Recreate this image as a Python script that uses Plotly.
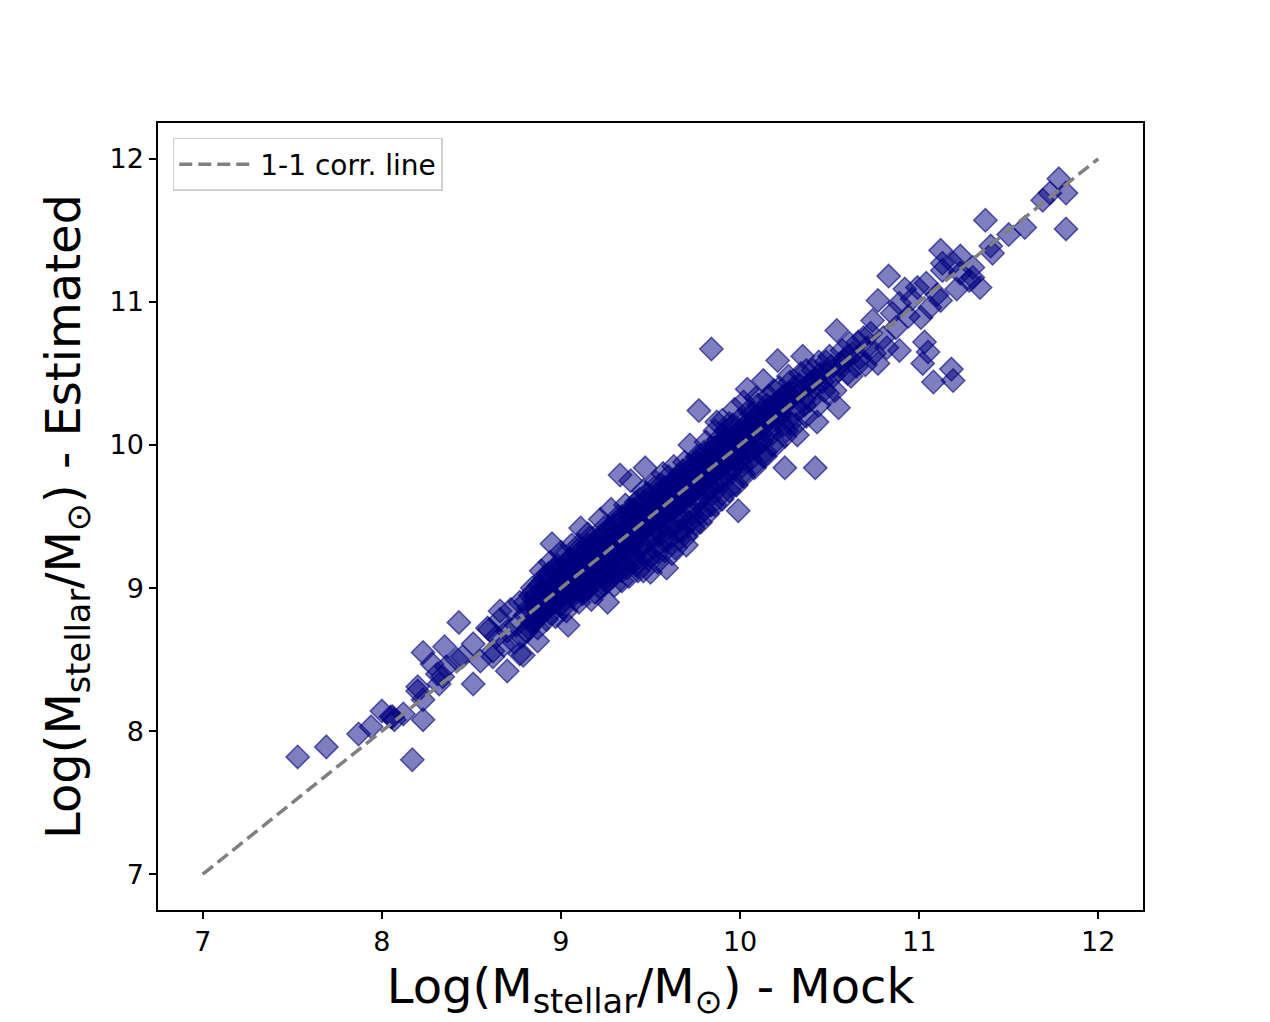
import plotly.graph_objects as go

# mock vs estimated log stellar mass
mock = [
    7.53, 7.69, 7.87, 8.17, 7.94, 8.00, 8.07, 8.23, 8.23, 8.35, 8.43, 8.51, 8.70, 8.79, 8.32, 8.20, 8.23, 8.05, 8.12,
    8.28, 8.36, 8.20, 8.06, 8.45, 8.51, 8.59, 8.66, 8.62, 8.55, 8.34, 8.31, 8.42, 8.87, 8.77,
    8.60, 8.62, 8.64, 8.66, 8.68, 8.70, 8.72, 8.74, 8.75, 8.77, 8.78, 8.80, 8.81, 8.83, 8.84, 8.86, 8.87, 8.88, 8.90,
    8.91, 8.92, 8.93, 8.94, 8.95, 8.96, 8.97, 8.98, 8.99, 9.00, 9.01, 9.02, 9.03, 9.04, 9.05, 9.06, 9.07, 9.08, 9.09,
    9.10, 9.11, 9.12, 9.13, 9.14, 9.15, 9.16, 9.17, 9.18, 9.19, 9.20, 9.21, 9.22, 9.23, 9.24, 9.25, 9.26, 9.27, 9.28,
    9.29, 9.30, 9.31, 9.32, 9.33, 9.34, 9.35, 9.36, 9.37, 9.38, 9.39, 9.40, 9.41, 9.42, 9.43, 9.44, 9.45, 9.46, 9.47,
    9.48, 9.49, 9.50, 9.51, 9.52, 9.53, 9.54, 9.55, 9.56, 9.57, 9.58, 9.59, 9.60, 9.61, 9.62, 9.63, 9.64, 9.65, 9.66,
    9.67, 9.68, 9.69, 9.70, 9.71, 9.72, 9.73, 9.74, 9.75, 9.76, 9.77, 9.78, 9.79, 9.80, 9.81, 9.82, 9.83, 9.84, 9.85,
    9.86, 9.87, 9.88, 9.89, 9.90, 9.91, 9.92, 9.93, 9.94, 9.95, 9.96, 9.97, 9.98, 9.99, 10.00, 10.01, 10.02, 10.03,
    10.04, 10.05, 10.06, 10.07, 10.08, 10.09, 10.10, 10.12, 10.13, 10.14, 10.15, 10.17, 10.19, 10.21, 10.22, 10.24,
    10.25, 10.27, 10.28, 10.30, 10.32, 10.33, 10.35, 10.37, 10.39, 10.40, 10.42, 10.43, 10.44, 10.45, 10.47, 10.49,
    10.50, 10.52, 10.54, 10.55, 10.56, 10.58, 10.60, 10.61, 10.63, 10.65, 10.67, 10.69, 10.71, 10.73, 10.74, 10.75,
    10.77, 10.77, 10.80, 10.82, 10.83, 10.85, 10.87, 10.89, 10.89, 10.92, 10.94, 10.96, 10.99, 11.01, 11.02, 11.03,
    11.04, 11.05, 11.06, 11.08, 11.10, 11.12, 11.12, 11.13, 11.13, 11.18, 11.19, 11.19, 11.21, 11.23, 11.23, 11.28,
    11.30, 11.30, 11.34, 11.37, 11.40, 11.41, 11.50, 11.59, 11.69, 11.73, 11.78, 11.82, 11.82,
    8.85, 8.88, 8.90, 8.93, 8.96, 8.99, 9.02, 9.04, 9.07, 9.09, 9.11, 9.14, 9.16, 9.18, 9.21, 9.23, 9.25, 9.27, 9.29,
    9.31, 9.33, 9.35, 9.37, 9.39, 9.41, 9.43, 9.45, 9.47, 9.49, 9.51, 9.53, 9.55, 9.57, 9.59, 9.61, 9.63, 9.65, 9.67,
    9.69, 9.71, 9.73, 9.75, 9.77, 9.79, 9.81, 9.83, 9.85, 9.87, 9.89, 9.91, 9.93, 9.95, 9.97, 9.99, 10.01, 10.03,
    10.06, 10.09, 10.11, 10.14, 10.16, 10.20, 10.23, 10.26, 10.29, 10.34, 10.38, 10.42, 10.46, 10.51,
    8.80, 8.82, 8.84, 8.86, 8.89, 8.91, 8.94, 8.97, 9.00, 9.03, 9.05, 9.08, 9.10, 9.12, 9.15, 9.17, 9.19, 9.22, 9.24,
    9.26, 9.28, 9.30, 9.32, 9.34, 9.36, 9.38, 9.40, 9.42, 9.44, 9.46, 9.48, 9.50, 9.52, 9.54, 9.56, 9.58, 9.60, 9.62,
    9.64, 9.66, 9.68, 9.70, 9.72, 9.74, 9.76, 9.78, 9.80, 9.82, 9.84, 9.86, 9.88, 9.90, 9.92, 9.94, 9.96, 9.98, 10.00,
    10.02, 10.05, 10.08, 10.10, 10.13, 10.16, 10.18, 10.22, 10.25, 10.28, 10.31, 10.34, 10.37, 10.41, 10.44, 10.48,
    10.53, 10.57, 10.62, 10.66, 10.70,
    8.95, 8.98, 9.01, 9.04, 9.07, 9.10, 9.13, 9.16, 9.19, 9.22, 9.25, 9.28, 9.31, 9.34, 9.37, 9.40, 9.43, 9.46, 9.49,
    9.52, 9.55, 9.58, 9.61, 9.64, 9.67, 9.70, 9.73, 9.76, 9.79, 9.82, 9.85, 9.88, 9.91, 9.94, 9.97, 10.00, 10.04,
    10.07, 10.12, 10.18, 10.24, 10.30, 10.36, 10.41, 10.48, 10.55, 10.60,
    8.82, 8.84, 8.86, 8.88, 8.90, 8.92, 8.94, 8.96, 8.98, 9.00, 9.02, 9.04, 9.06, 9.08, 9.10, 9.12, 9.14, 9.16, 9.18,
    9.20, 9.22, 9.24, 9.26, 9.28, 9.30, 9.32, 9.34, 9.36, 9.38, 9.40, 9.42, 9.44, 9.46, 9.48, 9.50, 9.52, 9.54, 9.56,
    9.58, 9.60, 9.62, 9.64, 9.66, 9.68, 9.70, 9.72, 9.74, 9.76, 9.78, 9.80, 9.82, 9.84, 9.86, 9.88, 9.90, 9.92, 9.94,
    9.96, 9.98, 10.00, 10.03, 10.06, 10.09, 10.12, 10.15, 10.18, 10.21, 10.24, 10.27, 10.30, 10.33, 10.36,
    8.87, 8.91, 8.95, 8.99, 9.03, 9.07, 9.11, 9.15, 9.19, 9.23, 9.27, 9.31, 9.35, 9.39, 9.43, 9.47, 9.51, 9.55, 9.59,
    9.63, 9.67, 9.71, 9.75, 9.79, 9.83, 9.87, 9.91, 9.95, 9.99, 10.03,
    8.89, 8.93, 8.97, 9.01, 9.05, 9.09, 9.13, 9.17, 9.21, 9.25, 9.29, 9.33, 9.37, 9.41, 9.45, 9.49, 9.53, 9.57, 9.61,
    9.65, 9.69, 9.73, 9.77, 9.81, 9.85, 9.89, 9.93, 9.97, 10.01, 10.05,
    8.85, 8.88, 8.91, 8.94, 8.97, 9.00, 9.03, 9.06, 9.09, 9.12, 9.15, 9.18, 9.21, 9.24, 9.27, 9.30, 9.33, 9.36, 9.39,
    9.42, 9.45, 9.48, 9.51, 9.54, 9.57, 9.60, 9.63, 9.66, 9.69, 9.72, 9.75, 9.78, 9.81, 9.84, 9.87, 9.90, 9.93, 9.96,
    9.99, 10.02, 10.05, 10.08, 10.11, 10.14, 10.17, 10.20, 10.23, 10.26,
    8.86, 8.90, 8.94, 8.98, 9.02, 9.06, 9.10, 9.14, 9.18, 9.22, 9.26, 9.30, 9.34, 9.38, 9.42, 9.46, 9.50, 9.54, 9.58,
    9.62, 9.66, 9.70, 9.74, 9.78, 9.82, 9.86, 9.90, 9.94, 9.98, 10.02, 10.06, 10.10, 10.16, 10.22,
]
estimated = [
    7.82, 7.89, 7.98, 7.80, 8.03, 8.14, 8.08, 8.08, 8.55, 8.59, 8.76, 8.33, 8.42, 8.53, 8.33, 8.31, 8.22, 8.10, 8.12,
    8.47, 8.45, 8.28, 8.10, 8.52, 8.61, 8.72, 8.84, 8.56, 8.49, 8.38, 8.40, 8.50, 8.63, 8.54,
    8.71, 8.52, 8.66, 8.78, 8.60, 8.70, 8.85, 8.62, 8.74, 8.90, 8.66, 8.81, 8.70, 8.95, 8.77, 8.86, 8.72, 9.02, 8.84,
    8.98, 8.78, 9.10, 8.88, 9.31, 9.02, 8.80, 9.16, 8.93, 9.08, 8.86, 9.22, 9.00, 8.74, 9.13, 9.30, 8.95, 9.05, 9.18,
    8.90, 9.42, 9.06, 9.24, 8.98, 9.12, 9.35, 9.03, 9.20, 8.97, 9.28, 9.10, 9.48, 9.15, 9.02, 9.33, 8.90, 9.22, 9.55,
    9.08, 9.38, 9.18, 9.27, 9.79, 9.05, 9.45, 9.30, 9.14, 9.52, 9.75, 9.36, 9.22, 9.60, 9.12, 9.44, 9.30, 9.68, 9.84,
    9.50, 9.20, 9.11, 9.58, 9.38, 9.74, 9.25, 9.62, 9.45, 9.80, 9.33, 9.14, 9.55, 9.70, 9.42, 9.85, 9.28, 9.62, 9.50,
    9.76, 9.40, 9.88, 9.30, 9.64, 10.00, 9.52, 9.78, 9.45, 9.92, 10.24, 9.62, 9.84, 9.55, 10.02, 9.70, 9.90, 10.67, 9.66,
    10.10, 10.16, 9.80, 9.95, 10.17, 9.75, 10.05, 9.88, 10.15, 9.82, 10.00, 10.25, 9.92, 9.54, 10.10, 9.85, 10.30, 9.98,
    10.39, 10.12, 9.90, 10.22, 10.05, 10.33, 10.00, 10.18, 10.45, 9.95, 10.28, 10.10, 10.38, 10.59, 10.20, 10.34,
    9.84, 10.48, 10.15, 10.40, 10.07, 10.25, 10.62, 10.52, 10.31, 10.44, 9.84, 10.16, 10.58, 10.50, 10.38, 10.36,
    10.62, 10.48, 10.80, 10.26, 10.57, 10.59, 10.50, 10.71, 10.64, 10.55, 10.61, 10.75, 10.68, 10.78, 10.87, 10.64,
    10.57, 11.01, 10.75, 10.68, 11.18, 10.92, 10.82, 10.66, 10.99, 11.09, 10.90, 11.02, 11.10, 10.89, 10.57, 10.72,
    11.13, 10.65, 10.96, 10.44, 11.05, 11.01, 11.36, 11.22, 11.27, 10.53, 10.45, 11.27, 11.09, 11.32, 11.20, 11.15,
    11.24, 11.17, 11.10, 11.57, 11.39, 11.34, 11.47, 11.52, 11.71, 11.76, 11.86, 11.76, 11.51,
    8.92, 8.80, 9.05, 8.96, 9.12, 9.00, 8.92, 9.10, 9.16, 9.00, 9.08, 9.20, 9.06, 9.14, 9.25, 9.08, 9.18, 9.30, 9.22,
    9.36, 9.25, 9.32, 9.42, 9.30, 9.40, 9.48, 9.38, 9.42, 9.55, 9.46, 9.50, 9.40, 9.58, 9.52, 9.62, 9.55, 9.70, 9.60,
    9.66, 9.74, 9.68, 9.80, 9.72, 9.70, 9.84, 9.78, 9.88, 9.82, 9.86, 9.96, 9.90, 10.04, 9.94, 10.02, 10.08, 10.04,
    10.12, 10.15, 10.08, 10.22, 10.14, 10.26, 10.22, 10.30, 10.33, 10.38, 10.42, 10.46, 10.44, 10.55,
    8.90, 8.72, 9.00, 8.78, 9.12, 8.85, 9.18, 8.90, 9.25, 8.84, 9.20, 8.92, 9.30, 8.96, 9.38, 8.92, 9.30, 9.00, 9.42,
    9.05, 9.40, 9.02, 9.50, 9.12, 9.58, 9.08, 9.55, 9.16, 9.62, 9.12, 9.66, 9.22, 9.70, 9.18, 9.72, 9.26, 9.78, 9.24,
    9.76, 9.34, 9.82, 9.36, 9.86, 9.42, 9.88, 9.46, 9.95, 9.52, 9.98, 9.58, 10.04, 9.62, 10.10, 9.68, 10.14, 9.72, 10.18,
    9.80, 10.24, 9.86, 10.28, 9.92, 10.34, 10.00, 10.40, 10.06, 10.44, 10.14, 10.50, 10.20, 10.52, 10.28, 10.58,
    10.38, 10.66, 10.48, 10.72, 10.56,
    8.98, 9.06, 9.02, 9.12, 9.04, 9.16, 9.10, 9.22, 9.16, 9.14, 9.28, 9.20, 9.30, 9.40, 9.30, 9.46, 9.36, 9.52, 9.44,
    9.58, 9.50, 9.64, 9.54, 9.68, 9.62, 9.76, 9.66, 9.82, 9.76, 9.86, 9.80, 9.94, 9.88, 9.98, 9.90, 10.04, 9.98,
    10.16, 10.12, 10.20, 10.28, 10.36, 10.32, 10.40, 10.50, 10.52, 10.62,
    8.86, 8.76, 8.95, 8.84, 8.98, 8.86, 9.06, 8.90, 9.12, 8.94, 9.10, 8.98, 9.20, 9.00, 9.24, 9.02, 9.26, 9.08, 9.32,
    9.10, 9.36, 9.12, 9.40, 9.14, 9.44, 9.16, 9.50, 9.20, 9.54, 9.24, 9.56, 9.28, 9.60, 9.32, 9.64, 9.36, 9.66, 9.38,
    9.70, 9.42, 9.74, 9.46, 9.78, 9.50, 9.80, 9.56, 9.86, 9.60, 9.90, 9.66, 9.94, 9.70, 9.98, 9.74, 10.02, 9.80, 10.06,
    9.84, 10.08, 9.90, 10.14, 9.96, 10.20, 10.02, 10.24, 10.08, 10.30, 10.14, 10.36, 10.22, 10.42, 10.28,
    8.90, 8.94, 9.00, 9.04, 9.06, 9.12, 9.14, 9.20, 9.22, 9.28, 9.30, 9.36, 9.38, 9.44, 9.46, 9.50, 9.54, 9.58, 9.62,
    9.66, 9.70, 9.74, 9.78, 9.82, 9.86, 9.90, 9.94, 9.98, 10.00, 10.06,
    8.82, 8.88, 8.92, 8.96, 9.00, 9.04, 9.06, 9.12, 9.16, 9.20, 9.24, 9.28, 9.32, 9.36, 9.40, 9.44, 9.48, 9.52, 9.56,
    9.60, 9.64, 9.68, 9.72, 9.76, 9.80, 9.84, 9.88, 9.92, 9.96, 10.00,
    8.98, 8.92, 9.08, 8.82, 9.14, 8.88, 9.18, 8.96, 9.26, 8.98, 9.30, 9.04, 9.34, 9.06, 9.42, 9.10, 9.46, 9.16, 9.50,
    9.20, 9.56, 9.24, 9.62, 9.30, 9.66, 9.34, 9.72, 9.40, 9.74, 9.46, 9.84, 9.52, 9.90, 9.58, 9.94, 9.66, 10.02, 9.72,
    10.06, 9.78, 10.16, 9.84, 10.22, 9.92, 10.26, 10.00, 10.32, 10.10,
    8.86, 8.88, 8.96, 8.98, 9.04, 9.08, 9.10, 9.16, 9.18, 9.24, 9.26, 9.32, 9.34, 9.40, 9.42, 9.48, 9.50, 9.56, 9.58,
    9.64, 9.66, 9.72, 9.74, 9.80, 9.82, 9.88, 9.90, 9.96, 9.98, 10.04, 10.06, 10.12, 10.18, 10.22,
]
line_x = [7, 12]
line_y = [7, 12]
ticks = [7, 8, 9, 10, 11, 12]

fig = go.Figure()
fig.add_trace(go.Scatter(
    x=mock, y=estimated, mode='markers', showlegend=False,
    marker=dict(symbol='diamond', size=18, color='rgba(0,0,128,0.5)',
                line=dict(color='rgba(0,0,128,0.6)', width=1.5))
))
fig.add_trace(go.Scatter(
    x=line_x, y=line_y, mode='lines', name='1-1 corr. line',
    line=dict(color='gray', width=3.5, dash='13px,6px')
))

axis_style = dict(
    range=[6.75, 12.25], tickvals=ticks, showgrid=False, zeroline=False,
    showline=True, linecolor='black', linewidth=1.5, mirror=True,
    ticks='outside', ticklen=7, tickwidth=1.5, tickcolor='black',
    tickfont=dict(size=27, color='black')
)
fig.update_xaxes(**axis_style,
                 title=dict(text='Log(M<sub>stellar</sub>/M<sub>⊙</sub>) - Mock',
                            font=dict(size=48, color='black'), standoff=13))
fig.update_yaxes(**axis_style,
                 title=dict(text='Log(M<sub>stellar</sub>/M<sub>⊙</sub>) - Estimated',
                            font=dict(size=48, color='black'), standoff=14))

fig.update_layout(
    width=1270, height=1022,
    margin=dict(l=150, r=135, t=115, b=120),
    plot_bgcolor='white', paper_bgcolor='white',
    font=dict(family='DejaVu Sans, sans-serif', color='black'),
    legend=dict(x=0.015, y=0.981, xanchor='left', yanchor='top', itemwidth=76,
                bgcolor='rgba(255,255,255,0.8)', bordercolor='#d0d0d0', borderwidth=1.5,
                font=dict(size=28, color='black')),
)
fig.write_html("out.html")
